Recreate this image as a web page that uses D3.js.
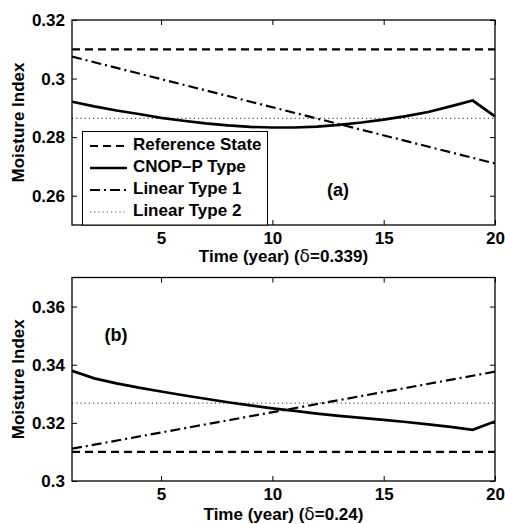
<!DOCTYPE html>
<html>
<head>
<meta charset="utf-8">
<script src="https://cdn.jsdelivr.net/npm/d3@7"></script>
<style>
html,body{margin:0;padding:0;background:#fff;}
svg{display:block;font-family:"Liberation Sans",Arial,Helvetica,sans-serif;font-weight:bold;}
</style>
</head>
<body>
<svg id="chart" width="505" height="524"></svg>
<script>
const years = d3.range(1, 21);
// Panel (a)
const refA = [0.31, 0.31];
const lin2A = [0.2864, 0.2864];
const lin1A = [0.3075, 0.2710];
const cnopA = [0.2921,0.2905,0.2891,0.2879,0.2866,0.2856,0.2847,0.2840,0.2835,0.2833,
               0.2833,0.2836,0.2842,0.2850,0.2860,0.2872,0.2886,0.2905,0.2925,0.2871];
// Panel (b)
const refB = [0.31, 0.31];
const lin2B = [0.3268, 0.3268];
const lin1B = [0.3111, 0.3376];
const cnopB = [0.3379,0.3353,0.3336,0.3321,0.3308,0.3295,0.3283,0.3271,0.3260,0.3250,
               0.3241,0.3232,0.3224,0.3217,0.3210,0.3203,0.3195,0.3186,0.3176,0.3205];
const xTicks = [5, 10, 15, 20];
const yTicksA = [0.26, 0.28, 0.30, 0.32];
const yTicksB = [0.30, 0.32, 0.34, 0.36];
const legendLabels = ["Reference State", "CNOP\u2013P Type", "Linear Type 1", "Linear Type 2"];

const svg = d3.select("#chart");
const styles = {
  ref:  {w: 2.2, dash: "8,5", color: "#000"},
  cnop: {w: 2.7, dash: null, color: "#000"},
  lin1: {w: 2.2, dash: "10,4,2,4", color: "#000"},
  lin2: {w: 1.2, dash: "1.2,3", color: "#555"}
};
const fmt = d => (d === 0.3 ? "0.3" : d3.format(".2f")(d));

function panel(cfg) {
  const {left, right, top, bottom, ydom, yticks, data, xlabel, tag, tagPos} = cfg;
  const x = d3.scaleLinear().domain([1, 20]).range([left, right]);
  const y = d3.scaleLinear().domain(ydom).range([bottom, top]);
  const g = svg.append("g");
  const clipId = "clip" + tag;
  svg.append("clipPath").attr("id", clipId).append("rect")
    .attr("x", left).attr("y", top).attr("width", right - left).attr("height", bottom - top);

  const line = d3.line().x(d => x(d[0])).y(d => y(d[1]));
  const lg = g.append("g").attr("clip-path", `url(#${clipId})`);
  const series = [
    {k: "lin2", pts: [[1, data.lin2[0]], [20, data.lin2[1]]]},
    {k: "ref", pts: [[1, data.ref[0]], [20, data.ref[1]]]},
    {k: "lin1", pts: [[1, data.lin1[0]], [20, data.lin1[1]]]},
    {k: "cnop", pts: years.map((yr, i) => [yr, data.cnop[i]])}
  ];
  series.forEach(s => {
    const st = styles[s.k];
    lg.append("path").attr("d", line(s.pts)).attr("fill", "none")
      .attr("stroke", st.color).attr("stroke-width", st.w)
      .attr("stroke-dasharray", st.dash);
  });

  const tl = 5;
  const ax = g.append("g");
  ax.append("g").attr("transform", `translate(0,${bottom})`)
    .call(d3.axisBottom(x).tickValues(xTicks).tickSize(-tl).tickPadding(7))
    .call(a => a.select(".domain").remove())
    .call(a => a.selectAll("text").attr("font-size", 17).attr("font-weight", "bold").attr("font-family", null));
  ax.append("g").attr("transform", `translate(0,${top})`)
    .call(d3.axisTop(x).tickValues(xTicks).tickSize(-tl).tickFormat(""))
    .call(a => a.select(".domain").remove());
  ax.append("g").attr("transform", `translate(${left},0)`)
    .call(d3.axisLeft(y).tickValues(yticks).tickSize(-tl).tickPadding(7).tickFormat(fmt))
    .call(a => a.select(".domain").remove())
    .call(a => a.selectAll("text").attr("font-size", 17).attr("font-weight", "bold").attr("font-family", null));
  ax.append("g").attr("transform", `translate(${right},0)`)
    .call(d3.axisRight(y).tickValues(yticks).tickSize(-tl).tickFormat(""))
    .call(a => a.select(".domain").remove());
  ax.selectAll(".tick line").attr("stroke", "#000").attr("stroke-width", 1);
  ax.selectAll(".tick text").attr("fill", "#000");
  g.append("rect").attr("x", left).attr("y", top).attr("width", right - left).attr("height", bottom - top)
    .attr("fill", "none").attr("stroke", "#000").attr("stroke-width", 1.3);

  const xt = g.append("text").attr("x", (left + right) / 2).attr("y", cfg.xlabelY)
    .attr("text-anchor", "middle").attr("font-size", 17);
  xt.append("tspan").text(xlabel.pre);
  xt.append("tspan").attr("font-family", "DejaVu Sans, sans-serif").attr("font-weight", "normal").text("\u03b4");
  xt.append("tspan").text(xlabel.post);
  g.append("text").attr("transform", `translate(24,${(top + bottom) / 2}) rotate(-90)`)
    .attr("text-anchor", "middle").attr("font-size", 17).text("Moisture Index");
  g.append("text").attr("x", tagPos[0]).attr("y", tagPos[1]).attr("text-anchor", "middle")
    .attr("dominant-baseline", "middle").attr("font-size", 18).text("(" + tag + ")");
  return {x, y, g};
}

panel({left: 72, right: 495, top: 20, bottom: 225, ydom: [0.25, 0.32], yticks: yTicksA,
  data: {ref: refA, lin2: lin2A, lin1: lin1A, cnop: cnopA},
  xlabel: {pre: "Time (year) (", post: "=0.339)"}, xlabelY: 262, tag: "a", tagPos: [338, 191]});
panel({left: 72, right: 495, top: 277.5, bottom: 481, ydom: [0.30, 0.37], yticks: yTicksB,
  data: {ref: refB, lin2: lin2B, lin1: lin1B, cnop: cnopB},
  xlabel: {pre: "Time (year) (", post: "=0.24)"}, xlabelY: 520, tag: "b", tagPos: [116, 336]});

const lgd = svg.append("g");
lgd.append("rect").attr("x", 82.5).attr("y", 131.5).attr("width", 185).attr("height", 93.5)
  .attr("fill", "#fff").attr("stroke", "#000").attr("stroke-width", 1);
const keys = ["ref", "cnop", "lin1", "lin2"];
legendLabels.forEach((lab, i) => {
  const yy = 146 + i * 22;
  const st = styles[keys[i]];
  lgd.append("line").attr("x1", 90).attr("x2", 127).attr("y1", yy).attr("y2", yy)
    .attr("stroke", st.color).attr("stroke-width", st.w).attr("stroke-dasharray", st.dash);
  lgd.append("text").attr("x", 133).attr("y", yy).attr("dominant-baseline", "middle")
    .attr("font-size", 17).text(lab);
});
</script>
</body>
</html>
